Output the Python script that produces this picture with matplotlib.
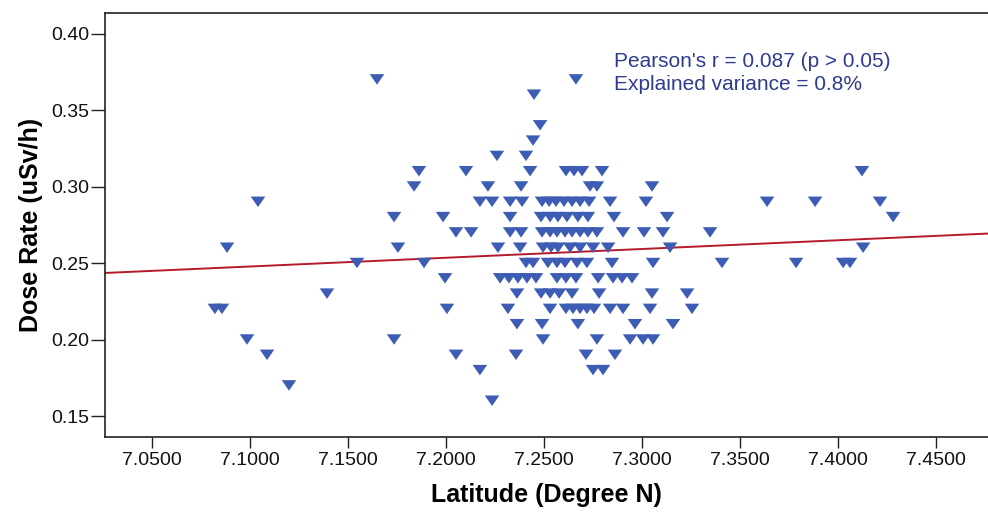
import matplotlib
matplotlib.use("Agg")
import matplotlib.pyplot as plt
import numpy as np

# dose-rate levels (uSv/h) and the latitudes of the sites at each level
dose_levels = [0.37, 0.36, 0.34, 0.33, 0.32, 0.31, 0.30, 0.29, 0.28, 0.27,
               0.26, 0.25, 0.24, 0.23, 0.22, 0.21, 0.20, 0.19, 0.18, 0.17, 0.16]
lat_037 = [7.1648, 7.2663]
lat_036 = [7.2449]
lat_034 = [7.2480]
lat_033 = [7.2444]
lat_032 = [7.2260, 7.2408]
lat_031 = [7.1862, 7.2102, 7.2429, 7.2612, 7.2653, 7.2694, 7.2796, 7.4122]
lat_030 = [7.1837, 7.2214, 7.2383, 7.2735, 7.2770, 7.3051]
lat_029 = [7.1041, 7.2173, 7.2235, 7.2327, 7.2388, 7.2490, 7.2526, 7.2561, 7.2602,
           7.2643, 7.2684, 7.2730, 7.2837, 7.3020, 7.3638, 7.3883, 7.4214]
lat_028 = [7.1735, 7.1985, 7.2327, 7.2485, 7.2531, 7.2571, 7.2617, 7.2673, 7.2724,
           7.2857, 7.3128, 7.4281]
lat_027 = [7.2051, 7.2128, 7.2327, 7.2383, 7.2490, 7.2531, 7.2566, 7.2607, 7.2643,
           7.2684, 7.2724, 7.2770, 7.2903, 7.3010, 7.3107, 7.3347]
lat_026 = [7.0883, 7.1755, 7.2265, 7.2378, 7.2495, 7.2536, 7.2571, 7.2633, 7.2684,
           7.2750, 7.2827, 7.3143, 7.4128]
lat_025 = [7.1546, 7.1888, 7.2408, 7.2444, 7.2520, 7.2566, 7.2607, 7.2668, 7.2719,
           7.2847, 7.3056, 7.3408, 7.3786, 7.4026, 7.4061]
lat_024 = [7.1995, 7.2276, 7.2321, 7.2367, 7.2413, 7.2459, 7.2566, 7.2612, 7.2663,
           7.2776, 7.2852, 7.2898, 7.2949]
lat_023 = [7.1393, 7.2362, 7.2485, 7.2531, 7.2577, 7.2643, 7.2781, 7.3051, 7.3230]
lat_022 = [7.0821, 7.0857, 7.2005, 7.2316, 7.2531, 7.2612, 7.2648, 7.2684, 7.2719,
           7.2755, 7.2837, 7.2903, 7.3041, 7.3255]
lat_021 = [7.2362, 7.2490, 7.2673, 7.2964, 7.3158]
lat_020 = [7.0985, 7.1735, 7.2495, 7.2770, 7.2939, 7.3005, 7.3056]
lat_019 = [7.1087, 7.2051, 7.2357, 7.2714, 7.2862]
lat_018 = [7.2173, 7.2750, 7.2801]
lat_017 = [7.1199]
lat_016 = [7.2235]

lat_by_level = [lat_037, lat_036, lat_034, lat_033, lat_032, lat_031, lat_030,
                lat_029, lat_028, lat_027, lat_026, lat_025, lat_024, lat_023,
                lat_022, lat_021, lat_020, lat_019, lat_018, lat_017, lat_016]

# linear fit line (dose = slope * lat + intercept)
fit_slope = 0.0572
fit_intercept = -0.1584

x_ticks = [7.05, 7.10, 7.15, 7.20, 7.25, 7.30, 7.35, 7.40, 7.45]
y_ticks = [0.15, 0.20, 0.25, 0.30, 0.35, 0.40]

latitude = []
dose = []
for level, lats in zip(dose_levels, lat_by_level):
    latitude.extend(lats)
    dose.extend([level] * len(lats))

plt.rcParams["font.family"] = ["Liberation Sans", "DejaVu Sans"]

fig = plt.figure(figsize=(9.88, 5.18), dpi=100)
ax = fig.add_axes([0.1058, 0.1573, 0.8942, 0.8176])

xlim = (7.0258, 7.4765)
ax.set_xlim(*xlim)
ax.set_ylim(0.1366, 0.4134)

tri = [(-1, 0.72), (1, 0.72), (0, -0.72), (-1, 0.72)]
ax.scatter(latitude, dose, marker=tri, s=110, color="#3D5CB4",
           edgecolors="none", zorder=3)

fx = np.array(xlim)
ax.plot(fx, fit_slope * fx + fit_intercept, color="#B31B2B", lw=1.4, zorder=2)

ax.text(0.577, 0.886, "Pearson's r = 0.087 (p > 0.05)", transform=ax.transAxes,
        fontsize=15, color="#2E3B8E", va="center", ha="left")
ax.text(0.577, 0.832, "Explained variance = 0.8%", transform=ax.transAxes,
        fontsize=15, color="#2E3B8E", va="center", ha="left")

ax.set_xticks(x_ticks)
ax.set_xticklabels([f"{v:.4f}" for v in x_ticks])
ax.set_yticks(y_ticks)
ax.set_yticklabels([f"{v:.2f}" for v in y_ticks])
ax.tick_params(axis="both", labelsize=14, width=1, color="#222222",
               labelcolor="#111111")
ax.tick_params(axis="y", length=10, pad=1)
ax.tick_params(axis="x", length=8, pad=3)

ax.spines["right"].set_visible(False)
for s in ["left", "bottom", "top"]:
    ax.spines[s].set_linewidth(1.2)
    ax.spines[s].set_color("#222222")

ax.set_xlabel("Latitude (Degree N)", fontsize=18, fontweight="bold", labelpad=10)
ax.set_ylabel("Dose Rate (uSv/h)", fontsize=18, fontweight="bold", labelpad=6)

fig.savefig("out.png", dpi=100)
